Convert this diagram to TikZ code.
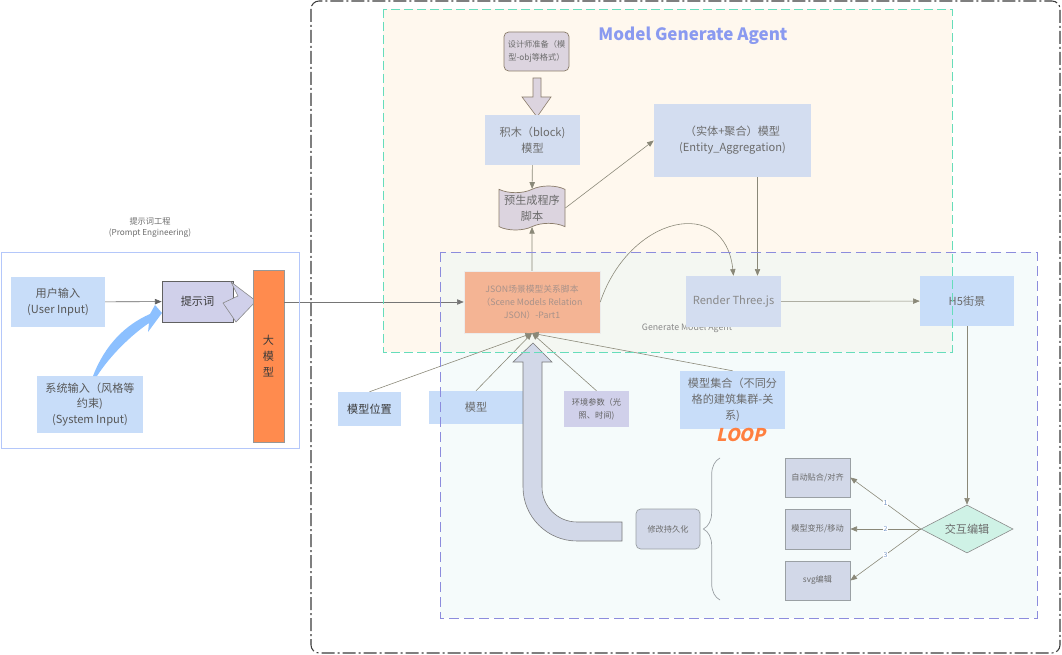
\documentclass[tikz,border=0pt]{standalone}
\usepackage{fontspec}
\setmainfont{Noto Sans CJK SC}
\newfontfamily\loopfont{Noto Sans CJK SC}[UprightFeatures={FakeSlant=0.22}, BoldFeatures={FakeSlant=0.22}]
\usetikzlibrary{arrows.meta,shapes.geometric,shapes.symbols,decorations.pathreplacing}

\definecolor{ink}{HTML}{6B6B6B}
\definecolor{dark}{HTML}{3A3A3A}
\definecolor{cream}{HTML}{FFF8EE}
\definecolor{mist}{HTML}{EBF7F7}
\definecolor{teal}{HTML}{66DDBB}
\definecolor{dashblue}{HTML}{8C8CDD}
\definecolor{paleblue}{HTML}{C8DDF9}
\definecolor{agentblue}{HTML}{D3DDF0}
\definecolor{lavender}{HTML}{D0D0EA}
\definecolor{sandfill}{HTML}{DCD4DF}
\definecolor{sandline}{HTML}{8B7D6B}
\definecolor{salmon}{HTML}{F4B494}
\definecolor{jsontext}{HTML}{A8928A}
\definecolor{orange}{HTML}{FF8B4E}
\definecolor{mint}{HTML}{CFF2E6}
\definecolor{editfill}{HTML}{D2D8E8}
\definecolor{editline}{HTML}{9AA0A4}
\definecolor{linkgray}{HTML}{8A8878}
\definecolor{sky}{HTML}{8CC0FF}
\definecolor{titleblue}{HTML}{8A9AF0}
\definecolor{loop}{HTML}{FF7F3F}
\definecolor{numblue}{HTML}{7A9AC8}

\newcommand\fnorm{\fontsize{9.5}{13.5}\selectfont}
\newcommand\fsm{\fontsize{7}{11}\selectfont}
\newcommand\ftn{\fontsize{7}{9.5}\selectfont}

\begin{document}
\begin{tikzpicture}[
		x=0.3mm, y=-0.3mm,
		every node/.style = {align=center, inner sep=1pt, text=ink},
		pale/.style = {fill=paleblue, font=\fnorm},
		agent/.style = {fill=agentblue, font=\fnorm},
		sand/.style = {fill=sandfill, draw=sandline, line width=0.6pt},
		edbox/.style = {fill=editfill, draw=editline, line width=0.6pt, font=\fsm},
		link/.style = {draw=linkgray, line width=0.5pt, -{Triangle[length=2mm,width=1.6mm]}},
		num/.style = {fill=white, text=numblue, font=\fontsize{6}{8}\selectfont, inner sep=0.3pt}
	]
	\useasboundingbox (0,0) rectangle (1062,655);
	% regions
	\fill[cream] (383,9) rectangle (952,352);
	\fill[mist, fill opacity=0.5] (440,252) rectangle (1037,618);
	\node[font=\ftn] (pelabel) at (150,228) {提示词工程\\(Prompt Engineering)};
	\node[font=\fontsize{14.5}{16}\selectfont\bfseries, text=titleblue] (title) at (693,36) {Model Generate Agent};
	\node[font=\fontsize{7.5}{9}\selectfont, text=ink!80] (gmlabel) at (687,328) {Generate Model Agent};

	% prompt engineering
	\node[pale, minimum width=28.2mm, minimum height=15mm, text=dark!85] (user) at (58,302) {用户输入\\(User Input)};
	\node[pale, minimum width=31.8mm, minimum height=17.1mm, text=dark!85] (sys) at (90,404.5) {系统输入（风格等\\约束)\\(System Input)};
	\node[fill=lavender, draw=dark!80, line width=0.6pt, font=\fnorm, text=dark, minimum width=21.3mm, minimum height=12.3mm] (prompt) at (197.5,301.5) {提示词};
	\filldraw[fill=lavender, draw=ink!80, line width=0.5pt] (231,282) -- (256,301) -- (236,322) -- (223,303) -- (238,296) -- cycle;
	\node[fill=orange, draw=ink!70, line width=0.5pt, font=\fnorm, text=dark, minimum width=9.3mm, minimum height=51.6mm] (llm) at (268.5,356) {大\\模\\型};
	\fill[sky] (93,376) .. controls (105,345) and (125,325) .. (150,314) -- (155,305) -- (162,313) -- (148,332) -- (149,323) .. controls (130,336) and (110,356) .. (97,376) -- cycle;

	% model generate agent
	\node[sand, rounded corners=4pt, font=\fsm, minimum width=19.5mm, minimum height=11.7mm] (designer) at (536.5,51.5) {设计师准备（模\\型-obj等格式）};
	\filldraw[fill=sandfill, draw=sandline, line width=0.5pt] (533,78) -- (541,78) -- (541,97) -- (551,97) -- (537,117) -- (522,97) -- (533,97) -- cycle;
	\node[agent, minimum width=28.5mm, minimum height=15mm] (block) at (532.5,140) {积木（block)\\模型};
	\node[sand, tape, tape bend height=2mm, font=\fnorm, minimum width=19.8mm, minimum height=13.2mm] (script) at (532,208) {预生成程序\\脚本};
	\node[agent, minimum width=47.1mm, minimum height=21.9mm] (entity) at (732.5,140.5) {（实体+聚合）模型\\(Entity\_Aggregation)};
	\node[fill=salmon, draw=white!85!gray, font=\fontsize{7.5}{11}\selectfont, text=jsontext, minimum width=40.8mm, minimum height=18.6mm] (json) at (532,302) {JSON场景模型关系脚本\\（Scene Models Relation\\JSON）-Part1};
	\node[agent, text=ink!80, minimum width=28.5mm, minimum height=15.3mm] (render) at (733.5,301.5) {Render Three.js};
	\node[pale, minimum width=28.2mm, minimum height=15mm] (h5) at (967,301) {H5街景};

	% inputs of the scene script
	\node[pale, text=dark, minimum width=18.9mm, minimum height=10.2mm] (pos) at (369.5,409) {模型位置};
	\node[pale, minimum width=28.2mm, minimum height=9.9mm] (model) at (476,407.5) {模型};
	\node[fill=lavender, font=\fsm, text=dark!80, minimum width=19.5mm, minimum height=10.8mm] (env) at (596.5,409) {环境参数（光\\照、时间)};
	\node[pale, minimum width=31.5mm, minimum height=17.4mm] (set) at (732.5,400) {模型集合（不同分\\格的建筑集群-关\\系)};
	\node[font=\fontsize{15}{17}\loopfont\bfseries, text=loop] (loop) at (741,435) {LOOP};

	% editing loop
	\node[diamond, fill=mint, draw=ink!80, line width=0.5pt, font=\fnorm, aspect=2, inner sep=0pt, minimum width=27.6mm, minimum height=14.4mm] (edit) at (967,529) {交互编辑};
	\node[edbox, minimum width=19.5mm, minimum height=11.7mm] (snap) at (817.5,477.5) {自动贴合/对齐};
	\node[edbox, minimum width=19.5mm, minimum height=12mm] (deform) at (817.5,529) {模型变形/移动};
	\node[edbox, minimum width=19.5mm, minimum height=11.7mm] (svg) at (817.5,580.5) {svg编辑};
	\node[edbox, rounded corners=4pt, minimum width=19.2mm, minimum height=12mm] (persist) at (668,529) {修改持久化};
	\filldraw[fill=editfill, draw=ink!90, line width=0.5pt] (622,522) -- (577,522) arc[start angle=90, end angle=180, radius=35] -- (542,362) -- (552,362) -- (533,343) -- (513,362) -- (523,362) -- (523,487) arc[start angle=180, end angle=90, radius=54] -- (622,541) -- cycle;
	\draw[editline, line width=0.6pt, decorate, decoration={brace, amplitude=5mm}] (720,600) -- (720,458);

	% connectors
	\draw[link, draw=dark!80] (user) -- (prompt);
	\draw[link, draw=dark!70] (llm.east |- json.west) -- (json.west);
	\draw[link] (block) -- (script);
	\draw[link] (json) -- (script);
	\draw[link] (script.east) -- (entity.west);
	\draw[link] ([xshift=7.5mm]entity.south) -- ([xshift=7.5mm]entity.south |- render.north);
	\draw[link] (json.east) .. controls (630,215) and (725,195) .. (render.north);
	\draw[link] (render) -- (h5);
	\draw[link] (h5) -- (edit);
	\draw[link] (pos.north) -- (json.south);
	\draw[link] (model.north) -- (json.south);
	\draw[link] (env.north) -- (json.south);
	\draw[link] (set.north) -- (json.south);
	\draw[link] (edit.west) -- (snap.east) node[num, midway] {1};
	\draw[link] (edit.west) -- (deform.east) node[num, midway] {2};
	\draw[link] (edit.west) -- (svg.east) node[num, midway] {3};

	% borders
	\draw[paleblue!90!blue, line width=0.6pt] (1,252) rectangle (299,448);
	\draw[teal, line width=0.8pt, dash pattern=on 2.7mm off 1.2mm] (383,9) rectangle (952,352);
	\draw[dashblue, line width=0.8pt, dash pattern=on 3mm off 1.5mm] (440,252) rectangle (1037,618);
	\draw[dark, line width=0.9pt, rounded corners=2.4mm, dash pattern=on 3.9mm off 0.9mm on 0.6mm off 0.9mm] (311,1) rectangle (1060,653);
\end{tikzpicture}
\end{document}
